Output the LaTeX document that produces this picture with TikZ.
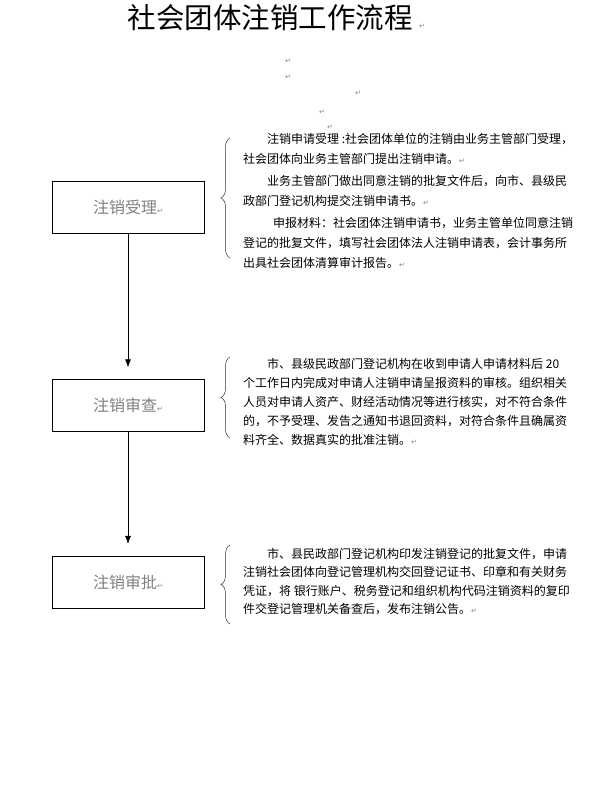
\documentclass[tikz,border=0pt]{standalone}
\usepackage{fontspec}
\newfontfamily\cjk{Noto Sans CJK SC}
\newfontfamily\symfont{DejaVu Sans}
\usetikzlibrary{positioning,decorations.pathreplacing,arrows.meta}
\newcommand{\pmark}{{\symfont\fontsize{7}{7}\selectfont\textcolor{gray}{↵}}}

\tikzset{
  stage/.style={draw,line width=0.6pt,minimum width=152pt,minimum height=52pt,inner sep=0pt,
    font=\cjk\fontsize{16}{16}\selectfont,text=gray},
  desc/.style={anchor=north west,align=left,inner sep=0pt},
  flow/.style={-{Latex[length=8pt,width=6pt]},line width=0.6pt,shorten >=12pt},
  brc/.style={decorate,decoration={brace,amplitude=9pt},line width=0.5pt,draw=black!80}
}

\begin{document}
\begin{tikzpicture}[x=1pt,y=1pt]
    \useasboundingbox (0,0) rectangle (600,-800);
    % title
    \node[font=\cjk\fontsize{28.5}{28.5}\selectfont] (title) at (270,-18) {社会团体注销工作流程};
    \node[anchor=base west,inner sep=0pt] (titlemark) at ([xshift=3pt]title.base east) {\pmark};
    \foreach \x/\y [count=\i] in {288/61,288/77,358/93,322/112,330/127}
        \node[inner sep=0pt] (pm\i) at (\x,-\y) {\pmark};
    % stages
    \node[stage] (recv) at (128,-207) {注销受理\pmark};
    \node[stage,below=146pt of recv] (review) {注销审查\pmark};
    \node[stage,below=124pt of review] (approve) {注销审批\pmark};
    \draw[flow] (recv) -- (review);
    \draw[flow] (review) -- (approve);
    % descriptions
    \node[desc,font=\cjk\fontsize{12}{20}\selectfont] (recvtxt) at (243,-133)
        {\hspace*{24pt}注销申请受理 :社会团体单位的注销由业务主管部门受理，\\
         社会团体向业务主管部门提出注销申请。\pmark\\[2pt]
         \hspace*{24pt}业务主管部门做出同意注销的批复文件后，向市、县级民\\
         政部门登记机构提交注销申请书。\pmark\\[2pt]
         \hspace*{30pt}申报材料：社会团体注销申请书，业务主管单位同意注销\\
         登记的批复文件，填写社会团体法人注销申请表，会计事务所\\
         出具社会团体清算审计报告。\pmark};
    \node[desc,font=\cjk\fontsize{12}{19}\selectfont] (reviewtxt) at (243,-358)
        {\hspace*{24pt}市、县级民政部门登记机构在收到申请人申请材料后 20\\
         个工作日内完成对申请人注销申请呈报资料的审核。组织相关\\
         人员对申请人资产、财经活动情况等进行核实，对不符合条件\\
         的，不予受理、发告之通知书退回资料，对符合条件且确属资\\
         料齐全、数据真实的批准注销。\pmark};
    \node[desc,font=\cjk\fontsize{12}{18.5}\selectfont] (approvetxt) at (243,-548)
        {\hspace*{24pt}市、县民政部门登记机构印发注销登记的批复文件，申请\\
         注销社会团体向登记管理机构交回登记证书、印章和有关财务\\
         凭证，将 银行账户、税务登记和组织机构代码注销资料的复印\\
         件交登记管理机关备查后，发布注销公告。\pmark};
    % braces
    \draw[brc] (230,-258) -- (230,-138);
    \draw[brc] (230,-438) -- (230,-357);
    \draw[brc] (230,-624) -- (230,-545);
\end{tikzpicture}
\end{document}
